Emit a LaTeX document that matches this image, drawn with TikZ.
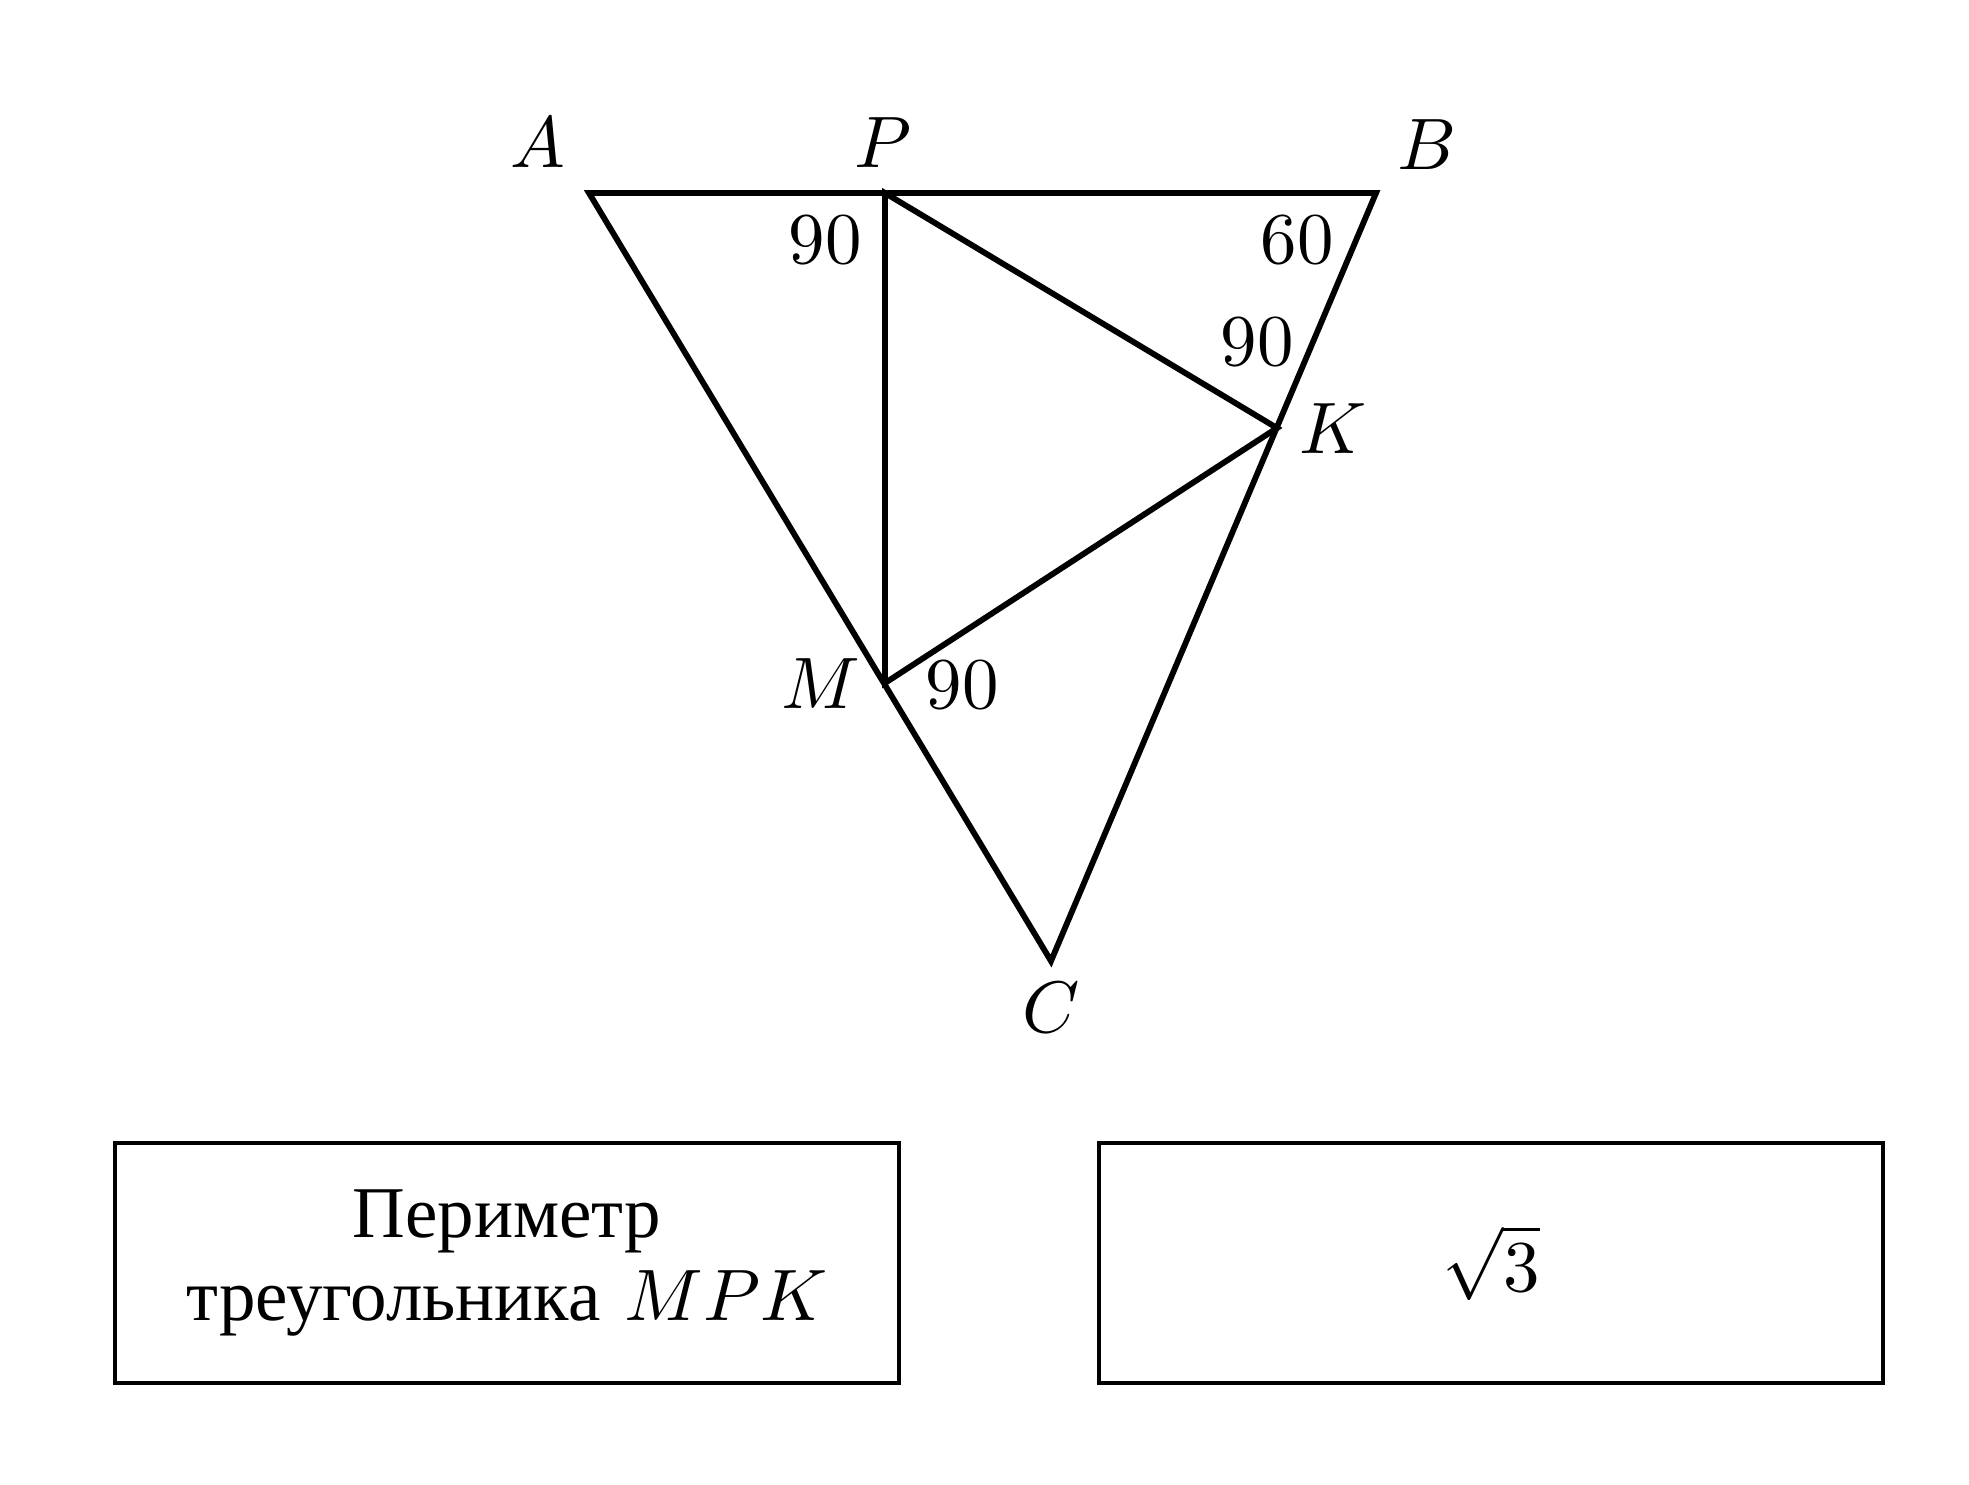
\documentclass[tikz,border=0pt]{standalone}
\usepackage{fontspec}
\newfontfamily\cyrfont{Liberation Serif}
\usetikzlibrary{calc}

\begin{document}
\begin{tikzpicture}[x=0.1371pt,y=-0.1371pt]
  \tikzset{side/.style={line width=.8pt},
    lbl/.style={inner sep=0pt},
    answer/.style={draw,line width=.55pt,minimum width=107.5pt,minimum height=33pt,
      align=center,font=\fontsize{10}{11.5}\selectfont}}
  \useasboundingbox (0,0) rectangle (1969,1484);
  % vertices
  \coordinate (A) at (589,193);
  \coordinate (B) at (1376,193);
  \coordinate (C) at (1051,961);
  \coordinate (P) at (885,193);
  \coordinate (K) at (1277,428);
  \coordinate (M) at (885,683);
  \draw[side] (A) -- (B) -- (C) -- cycle;
  \draw[side] (P) -- (M) -- (K) -- cycle;
  % labels
  \node[lbl] (lA) at (538,143) {$A$};
  \node[lbl] (lP) at (883,143) {$P$};
  \node[lbl] (lB) at (1427,145) {$B$};
  \node[lbl] (lK) at (1333,429) {$K$};
  \node[lbl] (lM) at (821,684) {$M$};
  \node[lbl] (lC) at (1051,1008) {$C$};
  \node[lbl] (aP) at (825,240) {90};
  \node[lbl] (aB) at (1297,240) {60};
  \node[lbl] (aK) at (1257,342) {90};
  \node[lbl] (aM) at (962,685) {90};
  % boxes
  \node[answer] (per) at (507,1263)
    {{\cyrfont Периметр}\\ {\cyrfont треугольника} $MPK$};
  \node[answer] (val) at (1491,1263) {$\sqrt{3}$};
\end{tikzpicture}
\end{document}
